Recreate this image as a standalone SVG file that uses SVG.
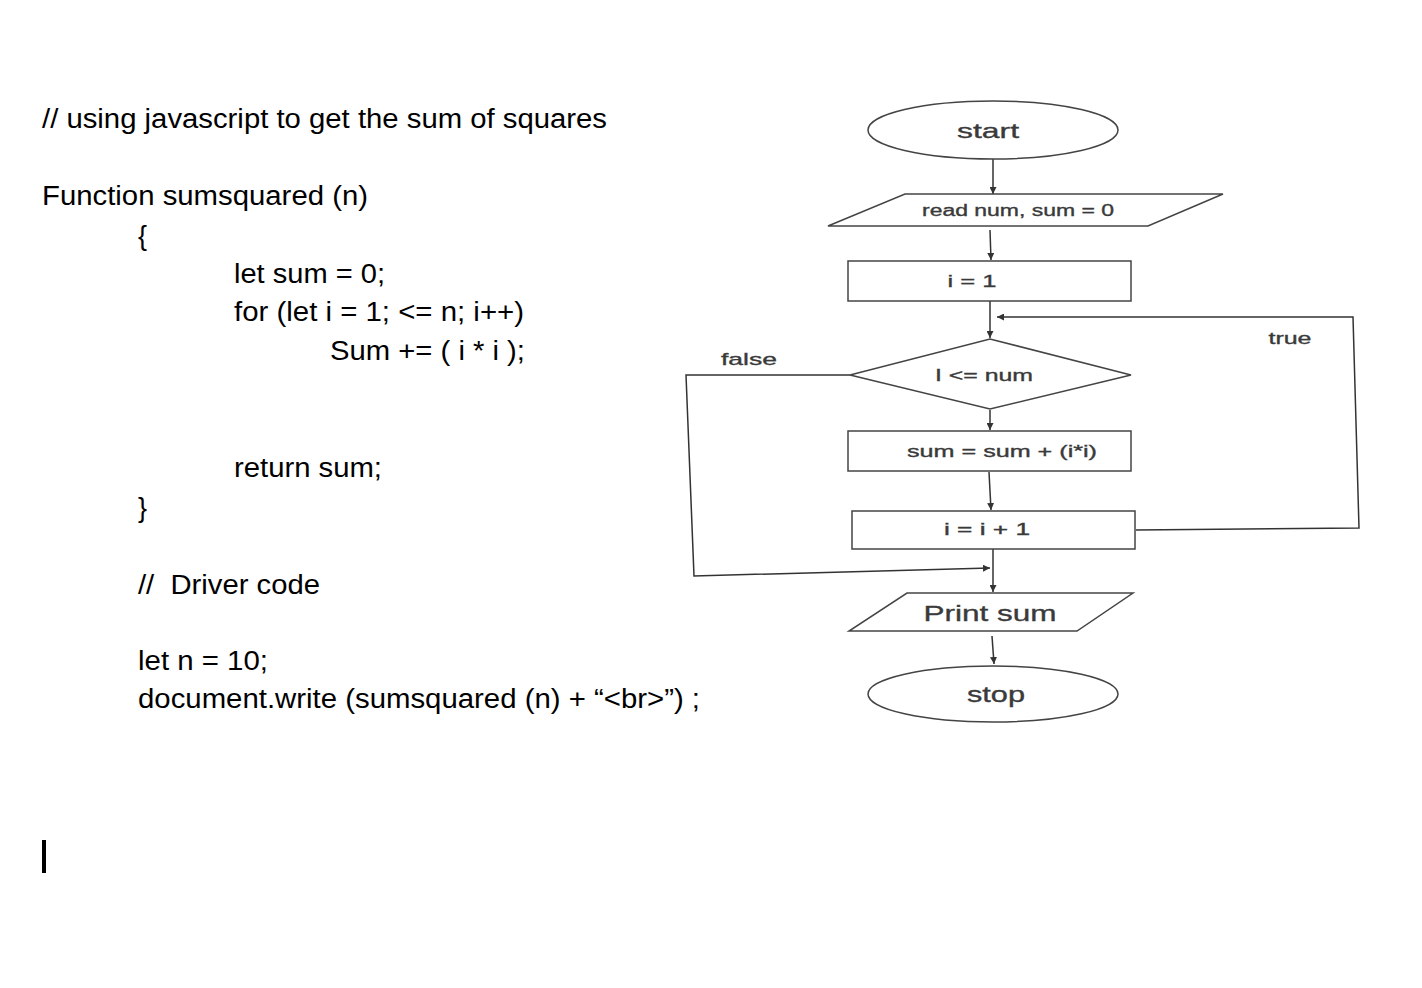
<svg xmlns="http://www.w3.org/2000/svg" width="1422" height="988" viewBox="0 0 1422 988">
<style>
.code{font-family:"Liberation Sans",Arial,sans-serif;font-size:27px;fill:#000}
.shape{fill:#fff;stroke:#444;stroke-width:1.5}
.lbl{font-family:"Liberation Sans",Arial,sans-serif;fill:#3a3a3a;stroke:#3a3a3a;stroke-width:0.35;text-anchor:middle;dominant-baseline:central}
.conn{fill:none;stroke:#333;stroke-width:1.5}
</style>
<defs>
<marker id="ah" viewBox="0 0 10 10" refX="10" refY="5" markerWidth="7" markerHeight="7" orient="auto" markerUnits="userSpaceOnUse">
<path d="M0,0 L10,5 L0,10 z" fill="#333"/>
</marker>
</defs>
<rect width="1422" height="988" fill="#fff"/>
<g id="code">
<text class="code" x="42" y="128" textLength="565" lengthAdjust="spacingAndGlyphs">// using javascript to get the sum of squares</text>
<text class="code" x="42" y="205" textLength="326" lengthAdjust="spacingAndGlyphs">Function sumsquared (n)</text>
<text class="code" x="138" y="245">{</text>
<text class="code" x="234" y="283" textLength="151" lengthAdjust="spacingAndGlyphs">let sum = 0;</text>
<text class="code" x="234" y="321" textLength="290" lengthAdjust="spacingAndGlyphs">for (let i = 1; &lt;= n; i++)</text>
<text class="code" x="330" y="360" textLength="195" lengthAdjust="spacingAndGlyphs">Sum += ( i * i );</text>
<text class="code" x="234" y="477" textLength="148" lengthAdjust="spacingAndGlyphs">return sum;</text>
<text class="code" x="138" y="517">}</text>
<text class="code" x="138" y="594" textLength="182" lengthAdjust="spacingAndGlyphs" xml:space="preserve">//  Driver code</text>
<text class="code" x="138" y="670" textLength="130" lengthAdjust="spacingAndGlyphs">let n = 10;</text>
<text class="code" x="138" y="708" textLength="562" lengthAdjust="spacingAndGlyphs">document.write (sumsquared (n) + “&lt;br&gt;”) ;</text>
<rect x="42" y="840" width="4" height="33" fill="#000"/>
</g>
<g id="connectors">
<line class="conn" x1="993" y1="159" x2="993" y2="194" marker-end="url(#ah)"/>
<line class="conn" x1="990" y1="230" x2="991" y2="260" marker-end="url(#ah)"/>
<line class="conn" x1="990" y1="301" x2="990" y2="338" marker-end="url(#ah)"/>
<line class="conn" x1="990" y1="410" x2="990" y2="430" marker-end="url(#ah)"/>
<line class="conn" x1="989" y1="472" x2="991" y2="510" marker-end="url(#ah)"/>
<line class="conn" x1="993" y1="549" x2="993" y2="592" marker-end="url(#ah)"/>
<line class="conn" x1="992" y1="636" x2="994" y2="664" marker-end="url(#ah)"/>
<polyline class="conn" points="1136,530 1359,528 1353,317 997,317" marker-end="url(#ah)"/>
<polyline class="conn" points="850,375 686,375 694,576 990,568" marker-end="url(#ah)"/>
<text class="lbl" x="1290" y="338" font-size="17" textLength="43" lengthAdjust="spacingAndGlyphs">true</text>
<text class="lbl" x="749" y="359" font-size="17" textLength="56" lengthAdjust="spacingAndGlyphs">false</text>
</g>
<g id="start">
<ellipse class="shape" cx="993" cy="130" rx="125" ry="29"/>
<text class="lbl" x="988" y="130" font-size="21" textLength="62" lengthAdjust="spacingAndGlyphs">start</text>
</g>
<g id="read">
<polygon class="shape" points="905,194 1223,194 1148,226 828,226"/>
<text class="lbl" x="1018" y="210" font-size="16" textLength="192" lengthAdjust="spacingAndGlyphs">read num, sum = 0</text>
</g>
<g id="init">
<rect class="shape" x="848" y="261" width="283" height="40"/>
<text class="lbl" x="972" y="281" font-size="17" textLength="49" lengthAdjust="spacingAndGlyphs">i = 1</text>
</g>
<g id="cond">
<polygon class="shape" points="850,375 990,339 1131,375 990,409"/>
<text class="lbl" x="984" y="375" font-size="16" textLength="98" lengthAdjust="spacingAndGlyphs">I &lt;= num</text>
</g>
<g id="add">
<rect class="shape" x="848" y="431" width="283" height="40"/>
<text class="lbl" x="1002" y="451" font-size="16" textLength="190" lengthAdjust="spacingAndGlyphs">sum = sum + (i*i)</text>
</g>
<g id="inc">
<rect class="shape" x="852" y="511" width="283" height="38"/>
<text class="lbl" x="987" y="529" font-size="16" textLength="86" lengthAdjust="spacingAndGlyphs">i = i + 1</text>
</g>
<g id="print">
<polygon class="shape" points="907,593 1133,593 1077,631 849,631"/>
<text class="lbl" x="990" y="613" font-size="22" textLength="133" lengthAdjust="spacingAndGlyphs">Print sum</text>
</g>
<g id="stop">
<ellipse class="shape" cx="993" cy="694" rx="125" ry="28"/>
<text class="lbl" x="996" y="694" font-size="22" textLength="58" lengthAdjust="spacingAndGlyphs">stop</text>
</g>
</svg>
